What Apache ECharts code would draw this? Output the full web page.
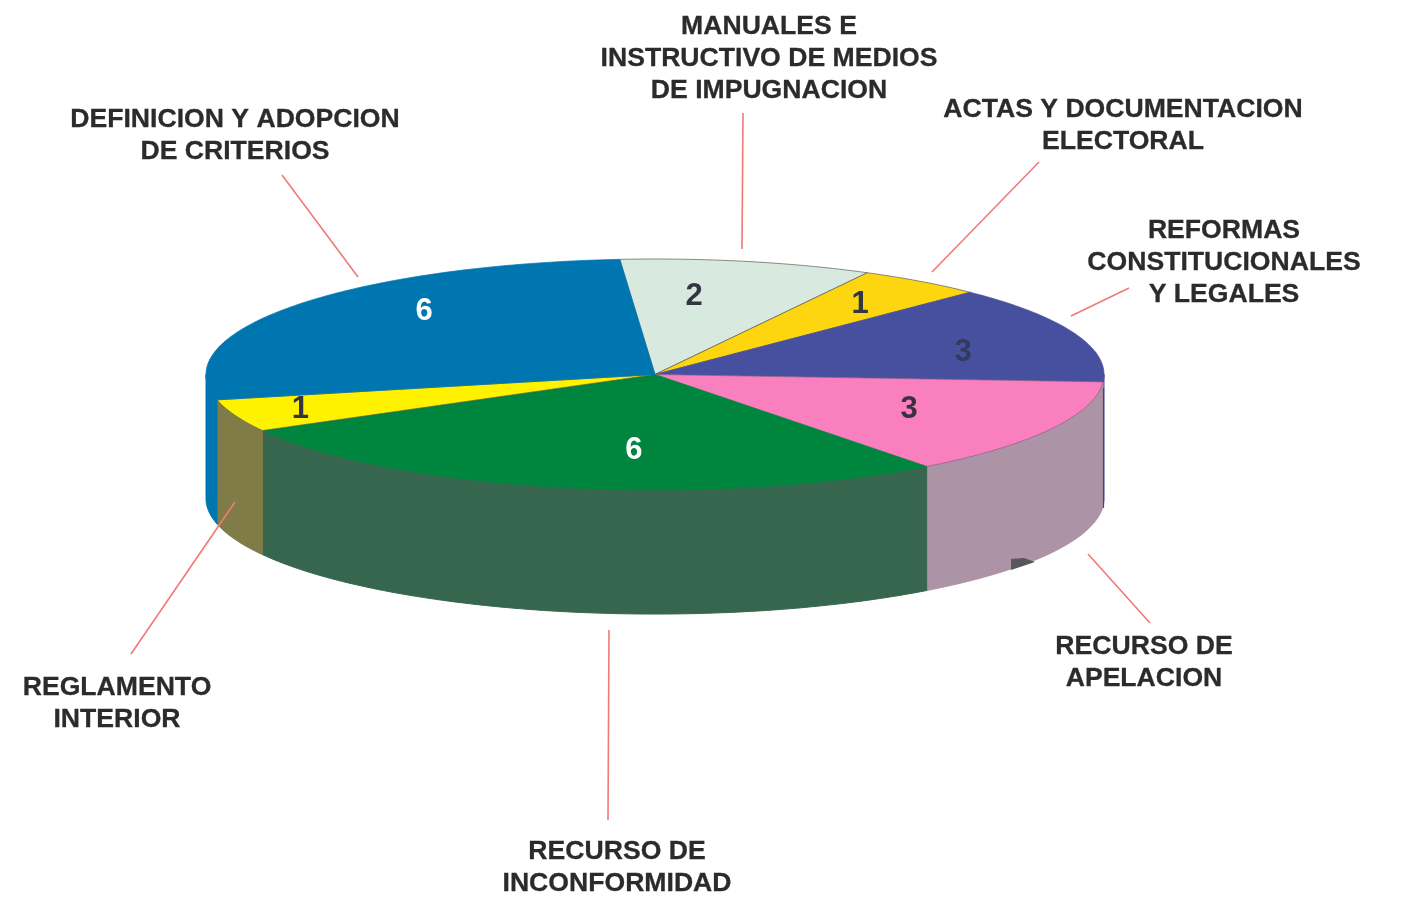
<!DOCTYPE html>
<html>
<head>
<meta charset="utf-8">
<style>
html,body{margin:0;padding:0;background:#fff;}
#main{width:1406px;height:898px;}
</style>
<script src="https://cdn.jsdelivr.net/npm/echarts@6/dist/echarts.min.js"></script>
</head>
<body>
<div id="main"></div>
<script>
// slices, clockwise from the top of the disc
var categories = ['MANUALES E INSTRUCTIVO DE MEDIOS DE IMPUGNACION', 'ACTAS Y DOCUMENTACION ELECTORAL',
	'REFORMAS CONSTITUCIONALES Y LEGALES', 'RECURSO DE APELACION', 'RECURSO DE INCONFORMIDAD',
	'REGLAMENTO INTERIOR', 'DEFINICION Y ADOPCION DE CRITERIOS'];
var values = [2, 1, 3, 3, 6, 1, 6];
var topColors = ['#d8e9df', '#fdd60f', '#47509f', '#f97fbf', '#00853e', '#fff200', '#0076b0'];
var wallColors = ['#b9c8c0', '#b09a30', '#47509f', '#ac93a6', '#37664e', '#807c48', '#0076b0'];
var edgeColors = ['#5c5c5c', '#5c5c5c', '#47509f', '#8a5f88', '#00853e', '#5c5c3c', '#0076b0'];
var valueColors = ['#33363f', '#33363f', '#333a5c', '#3c3040', '#ffffff', '#33363f', '#ffffff'];
// number position inside the disc, as a fraction of the radii
var valueSpots = [[0.087, -0.675], [0.457, -0.605], [0.686, -0.195], [0.566, 0.305], [-0.047, 0.655], [-0.79, 0.3], [-0.514, -0.545]];

var captions = [
	{lines: ['MANUALES E', 'INSTRUCTIVO DE MEDIOS', 'DE IMPUGNACION'], x: 769, y: 27},
	{lines: ['ACTAS Y DOCUMENTACION', 'ELECTORAL'], x: 1123, y: 110},
	{lines: ['REFORMAS', 'CONSTITUCIONALES', 'Y LEGALES'], x: 1224, y: 231},
	{lines: ['RECURSO DE', 'APELACION'], x: 1144, y: 647},
	{lines: ['RECURSO DE', 'INCONFORMIDAD'], x: 617, y: 852},
	{lines: ['REGLAMENTO', 'INTERIOR'], x: 117, y: 688},
	{lines: ['DEFINICION Y ADOPCION', 'DE CRITERIOS'], x: 235, y: 120}
];
var leaders = [
	[743, 113, 742, 249], [1039, 162, 932, 272], [1129, 288, 1071, 316], [1088, 554, 1150, 623],
	[609, 630, 608, 820], [235, 502, 131, 654], [282, 175, 358, 277]
];

var START_ANGLE = -4.5;
var DEPTH = 1.074; // wall height, in y axis units (disc radius = 1)
var total = 0;
for (var i = 0; i < values.length; i++) {
	total += values[i];
}

function sliceRange(index) {
	var sum = 0;
	for (var i = 0; i < index; i++) {
		sum += values[i];
	}
	var a = START_ANGLE + sum / total * 360;
	return [a, a + values[index] / total * 360];
}

function rim(api, deg, drop) {
	var r = deg * Math.PI / 180;
	return api.coord([Math.sin(r), -Math.cos(r) + drop]);
}

function arcPoints(api, from, to, drop) {
	var pts = [];
	var n = Math.max(2, Math.ceil(Math.abs(to - from)));
	for (var i = 0; i <= n; i++) {
		pts.push(rim(api, from + (to - from) * i / n, drop));
	}
	return pts;
}

function renderWall(params, api) {
	var range = sliceRange(params.dataIndex);
	var from = Math.max(range[0], 90);
	var to = Math.min(range[1], 270);
	if (to <= from) {
		return null;
	}
	var pts = arcPoints(api, from, to, 0).concat(arcPoints(api, to, from, DEPTH));
	return {
		type: 'polygon',
		shape: {points: pts},
		style: {fill: wallColors[params.dataIndex], stroke: wallColors[params.dataIndex], lineWidth: 1}
	};
}

function renderTop(params, api) {
	var i = params.dataIndex;
	var range = sliceRange(i);
	var pts = [api.coord([0, 0])].concat(arcPoints(api, range[0], range[1], 0));
	var spot = api.coord(valueSpots[i]);
	return {
		type: 'group',
		children: [{
			type: 'polygon',
			shape: {points: pts},
			style: {fill: topColors[i], stroke: edgeColors[i], lineWidth: 0.7}
		}, {
			type: 'text',
			z2: 10,
			style: {
				text: String(api.value(1)),
				x: spot[0],
				y: spot[1],
				align: 'center',
				verticalAlign: 'middle',
				fill: valueColors[i],
				font: 'bold 31px "Liberation Sans"'
			}
		}]
	};
}

var sliceData = [];
for (var k = 0; k < values.length; k++) {
	sliceData.push({name: categories[k], value: [k, values[k]]});
}

var graphics = [];
captions.forEach(function (c) {
	c.lines.forEach(function (line, n) {
		graphics.push({
			type: 'text',
			z: 20,
			style: {
				text: line,
				x: c.x,
				y: c.y + n * 32,
				align: 'center',
				verticalAlign: 'middle',
				fill: '#2b2b2e',
				stroke: '#2b2b2e',
				lineWidth: 0.3,
				font: 'bold 26.6px "Liberation Sans"'
			}
		});
	});
});
leaders.forEach(function (l) {
	graphics.push({
		type: 'line',
		z: 20,
		shape: {x1: l[0], y1: l[1], x2: l[2], y2: l[3]},
		style: {stroke: '#ef7a78', lineWidth: 1.6}
	});
});
// dark right edge of the wall
graphics.push({
	type: 'line',
	z: 20,
	shape: {x1: 1103.5, y1: 388, x2: 1103.5, y2: 508},
	style: {stroke: '#4a4a4a', lineWidth: 1.2}
});
// scanning speck on the pink wall
graphics.push({
	type: 'polygon',
	z: 20,
	shape: {points: [[1011, 559], [1024, 558], [1035, 562], [1011, 570]]},
	style: {fill: '#5a565e'}
});

var myChart = echarts.init(document.getElementById('main'));
myChart.setOption({
	animation: false,
	backgroundColor: '#ffffff',
	grid: {left: 206, top: 259, width: 898, height: 231},
	xAxis: {type: 'value', min: -1, max: 1, show: false},
	yAxis: {type: 'value', min: -1, max: 1, inverse: true, show: false},
	graphic: graphics,
	series: [
		{type: 'custom', z: 2, renderItem: renderWall, data: sliceData, silent: true},
		{type: 'custom', z: 3, renderItem: renderTop, data: sliceData, silent: true}
	]
});
</script>
</body>
</html>
